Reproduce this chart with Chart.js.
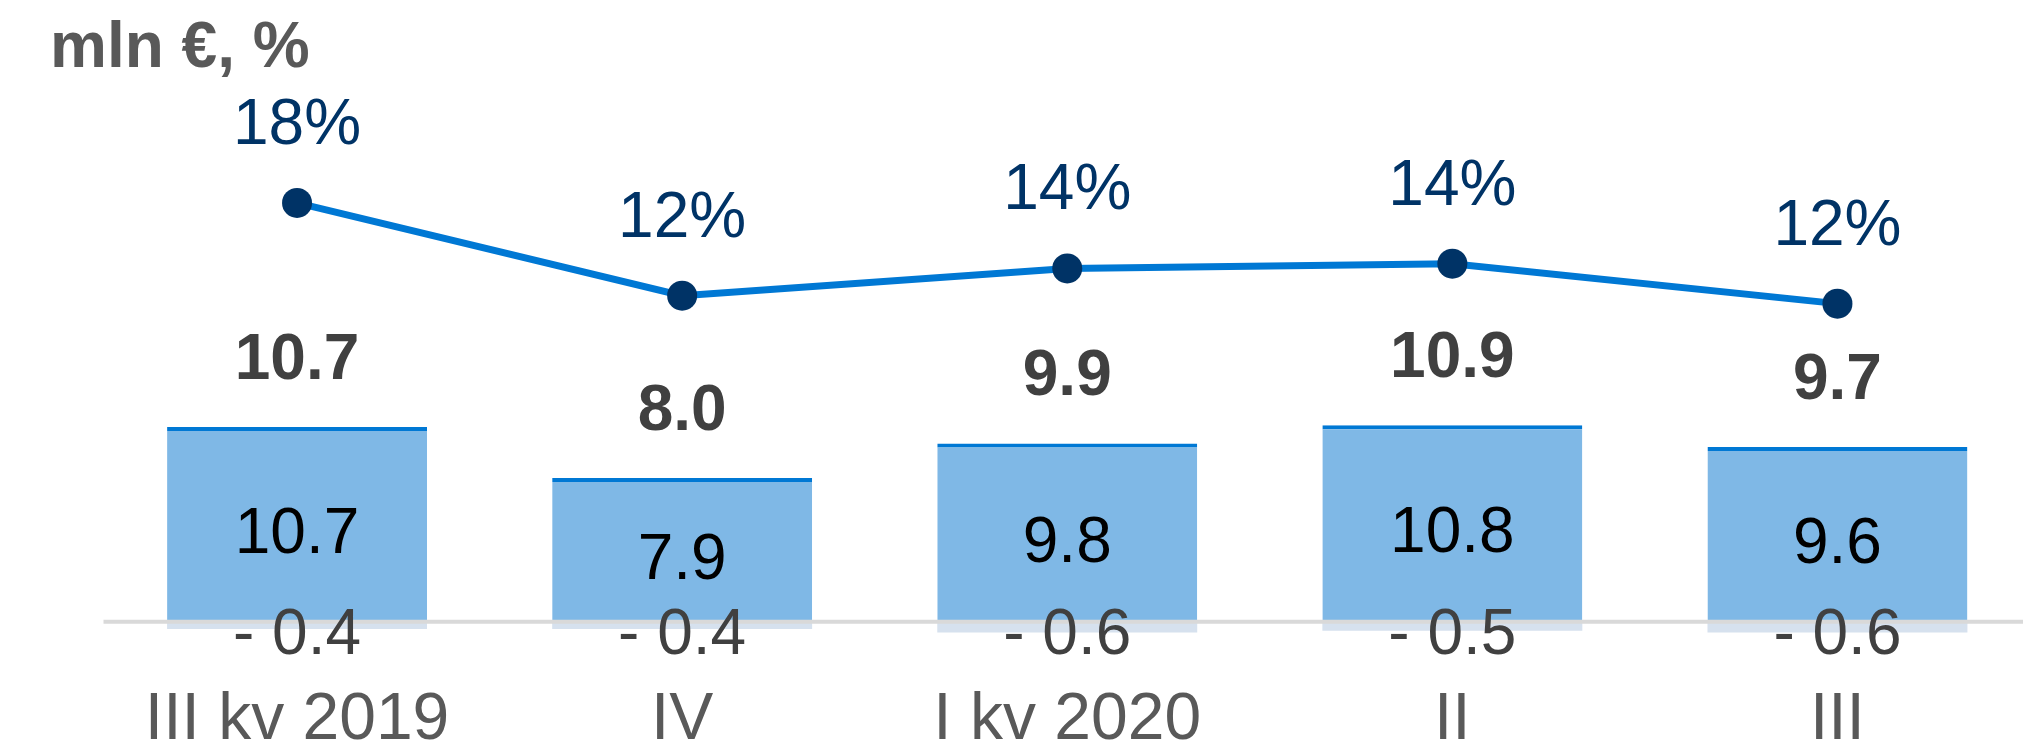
<!DOCTYPE html>
<html>
<head>
<meta charset="utf-8">
<script src="https://cdn.jsdelivr.net/npm/chart.js@4"></script>
<style>
  html, body { margin: 0; padding: 0; background: #fff; overflow: hidden; }
  #wrap { width: 2030px; height: 752px; }
</style>
</head>
<body>
<div id="wrap"><canvas id="chart" width="2030" height="752"></canvas></div>
<script>
const categories = ['III kv 2019', 'IV', 'I kv 2020', 'II', 'III'];
const mainValues = [10.7, 7.9, 9.8, 10.8, 9.6];
const negValues = [-0.4, -0.4, -0.6, -0.5, -0.6];
const totals = [10.7, 8.0, 9.9, 10.9, 9.7];
const marginPct = [18.2, 12.4, 14.1, 14.4, 11.9];

const FONT = '"Liberation Sans", Arial, sans-serif';

// labels, zero line and the unit title
const labelPlugin = {
    id: 'labels',
    afterDatasetsDraw(chart) {
        const ctx = chart.ctx;
        const y = chart.scales.y;
        const zeroY = y.getPixelForValue(0);
        const mainMeta = chart.getDatasetMeta(0);
        const lineMeta = chart.getDatasetMeta(2);

        ctx.save();
        ctx.strokeStyle = '#D9D9D9';
        ctx.lineWidth = 4;
        ctx.beginPath();
        ctx.moveTo(chart.chartArea.left - 1, zeroY);
        ctx.lineTo(chart.width, zeroY);
        ctx.stroke();

        ctx.textAlign = 'center';
        ctx.textBaseline = 'alphabetic';

        mainMeta.data.forEach((bar, i) => {
            const x = bar.x;
            const top = bar.y;
            ctx.font = 'bold 64px ' + FONT;
            ctx.fillStyle = '#404040';
            ctx.fillText(totals[i].toFixed(1), x, top - 48);

            ctx.font = '64px ' + FONT;
            ctx.fillStyle = '#000000';
            ctx.fillText(mainValues[i].toFixed(1), x, (top + zeroY) / 2 + 29);

            ctx.fillStyle = '#404040';
            ctx.fillText('- ' + Math.abs(negValues[i]).toFixed(1), x, zeroY + 32);
        });

        lineMeta.data.forEach((pt, i) => {
            ctx.font = '64px ' + FONT;
            ctx.fillStyle = '#003366';
            ctx.fillText(Math.round(marginPct[i]) + '%', pt.x, pt.y - 59);
        });

        ctx.textAlign = 'left';
        ctx.font = 'bold 64px ' + FONT;
        ctx.fillStyle = '#595959';
        ctx.fillText('mln €, %', 50, 67);
        ctx.restore();
    }
};

new Chart(document.getElementById('chart'), {
    type: 'bar',
    data: {
        labels: categories,
        datasets: [
            {
                data: mainValues,
                backgroundColor: '#7FB8E6',
                borderColor: '#0078D4',
                borderWidth: { top: 4, left: 0, right: 0, bottom: 0 },
                borderSkipped: false,
                barPercentage: 0.675,
                categoryPercentage: 1,
                order: 2
            },
            {
                data: negValues,
                backgroundColor: '#D6E1EE',
                borderWidth: 0,
                barPercentage: 0.675,
                categoryPercentage: 1,
                order: 3
            },
            {
                type: 'line',
                data: marginPct,
                yAxisID: 'y2',
                borderColor: '#0078D4',
                borderWidth: 7,
                pointRadius: 15,
                pointBackgroundColor: '#003366',
                pointBorderWidth: 0,
                tension: 0,
                clip: false,
                order: 0
            }
        ]
    },
    options: {
        responsive: false,
        animation: false,
        layout: { autoPadding: false, padding: { left: 104.5, right: 0, top: 0, bottom: 0 } },
        plugins: { legend: { display: false }, tooltip: { enabled: false } },
        scales: {
            x: {
                stacked: true,
                grid: { display: false, drawTicks: false },
                border: { display: false },
                ticks: {
                    padding: 5,
                    color: '#595959',
                    font: { family: FONT, size: 66, lineHeight: 1.1 }
                },
                afterFit: (scale) => { scale.height = 73; }
            },
            y: {
                stacked: true,
                display: false,
                min: -3.15,
                max: 34.18
            },
            y2: {
                display: false,
                min: -11.575,
                max: 30.89
            }
        }
    },
    plugins: [labelPlugin]
});
</script>
</body>
</html>
